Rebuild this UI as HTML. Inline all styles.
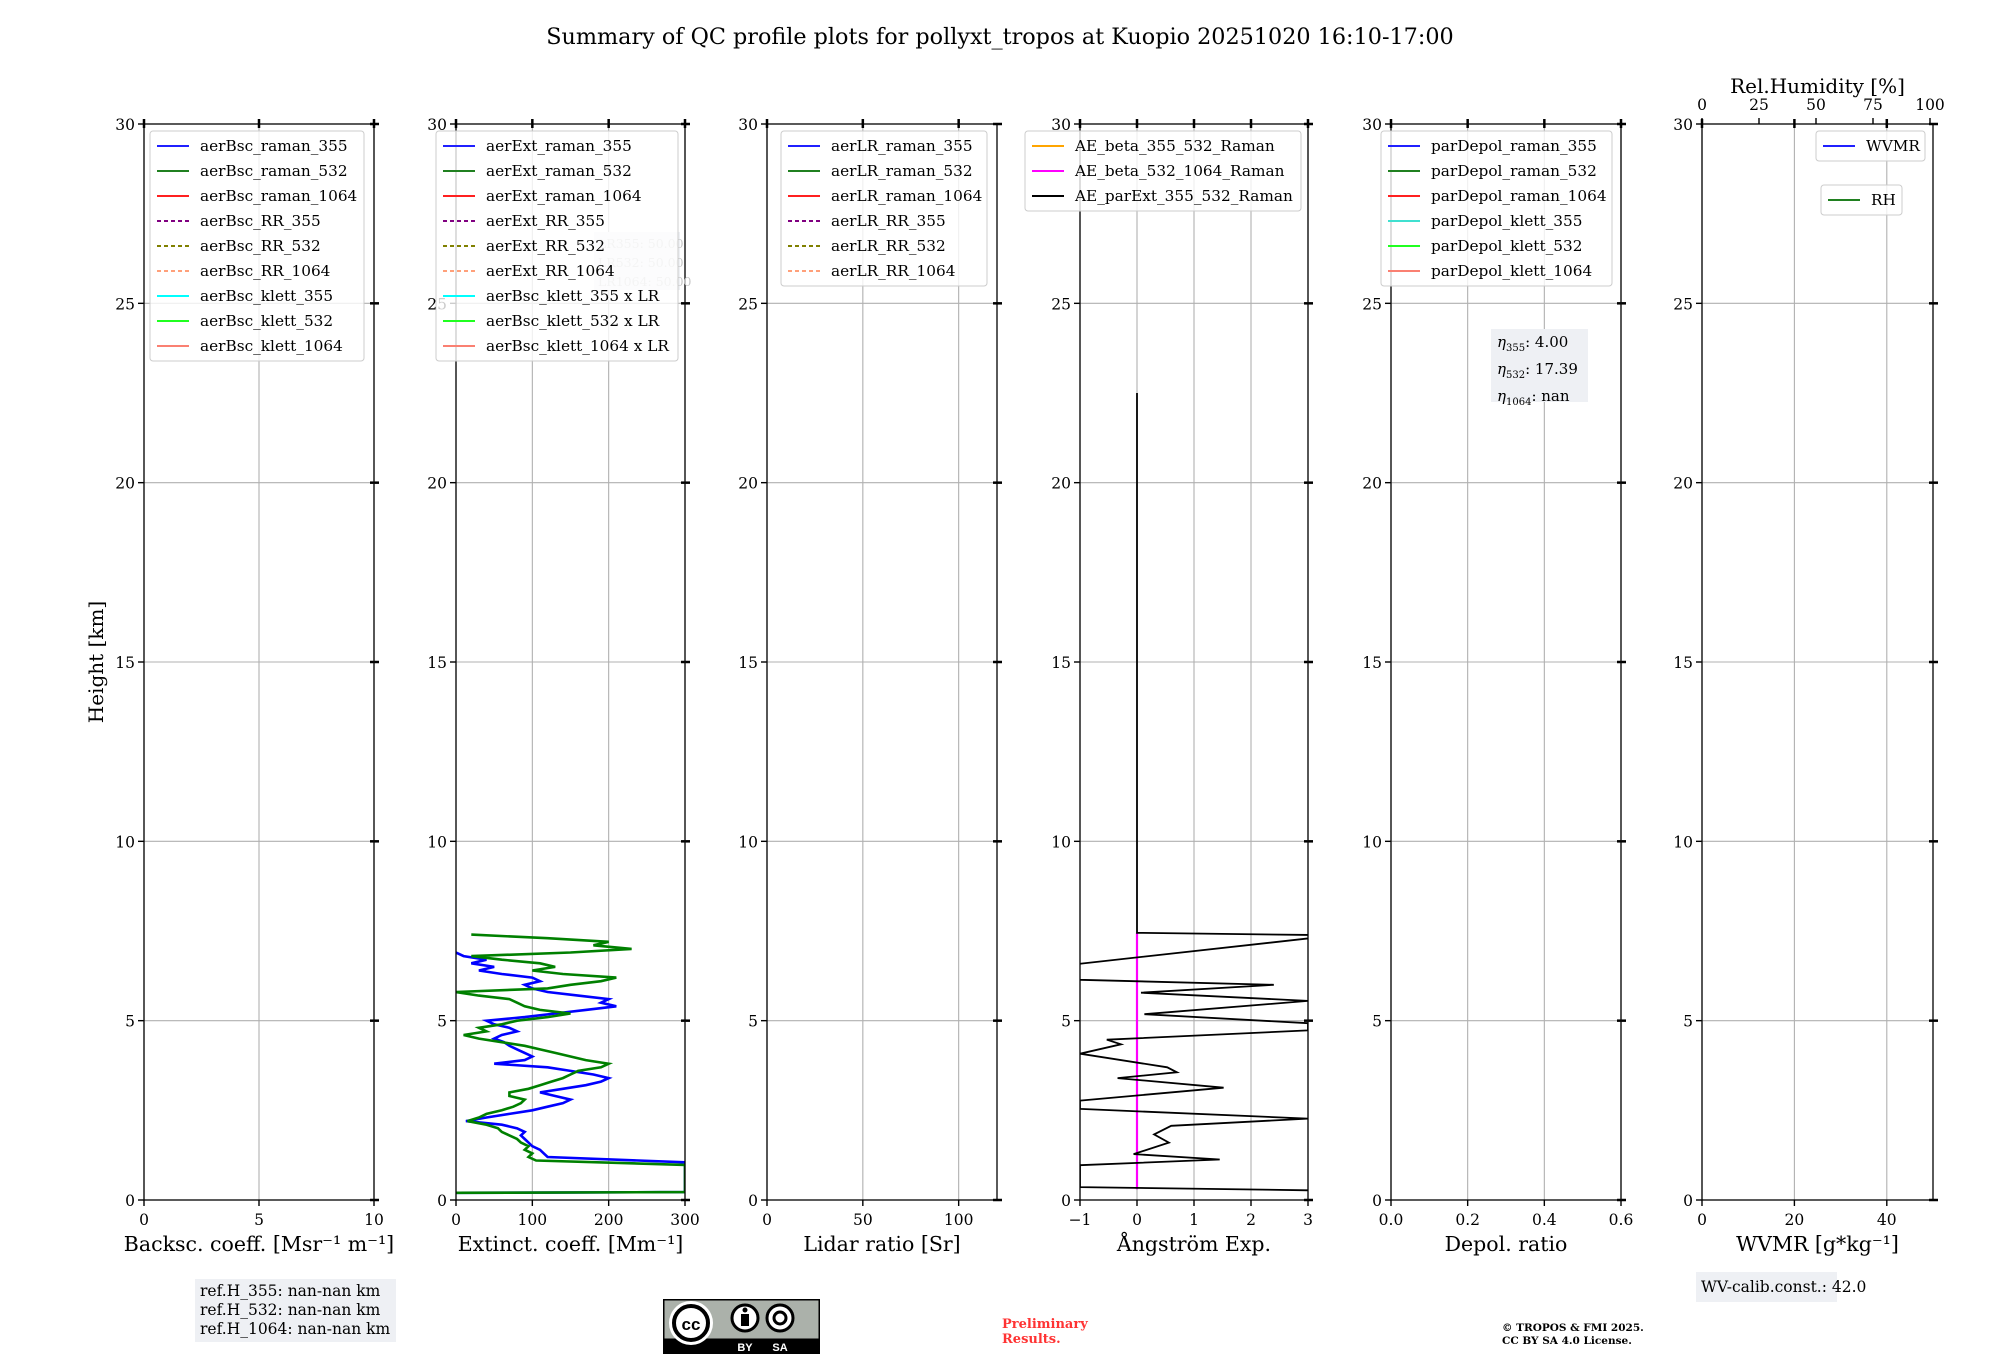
<!DOCTYPE html>
<html><head><meta charset="utf-8">
<style>
html,body{margin:0;padding:0;background:#fff;}
svg{display:block;font-family:"DejaVu Serif","Liberation Serif",serif;}
</style></head>
<body>
<svg id="fig" width="2000" height="1360" viewBox="0 0 2000 1360" xmlns="http://www.w3.org/2000/svg">
<text x="1000" y="44" font-size="22.3" text-anchor="middle">Summary of QC profile plots for pollyxt_tropos at Kuopio 20251020 16:10-17:00</text>
<text transform="translate(103,662) rotate(-90)" font-size="20" text-anchor="middle">Height [km]</text>
<g id="panels"></g>
</svg>
<script>
// ---- data ----
const heightTicks = [0,5,10,15,20,25,30];
const extHeights = [0.2,0.22,0.98,1.1,1.2,1.3,1.4,1.5,1.6,1.7,1.8,1.9,2.0,2.1,2.2,2.3,2.4,2.5,2.6,2.7,2.8,2.9,3.0,3.1,3.2,3.3,3.4,3.5,3.6,3.7,3.8,3.9,4.0,4.1,4.2,4.3,4.4,4.5,4.6,4.7,4.8,4.9,5.0,5.1,5.2,5.3,5.4,5.5,5.6,5.7,5.8,5.9,6.0,6.1,6.2,6.3,6.4,6.5,6.6,6.7,6.8,6.9,7.0,7.1,7.2,7.3,7.4];
const ext532 = [0,300,300,105,95,100,90,95,85,80,70,60,55,40,15,30,40,60,75,85,90,70,70,95,110,125,140,150,160,190,200,170,150,130,110,90,60,30,10,40,30,60,80,120,150,110,90,80,70,30,0,120,150,190,210,140,100,130,110,60,20,150,230,180,200,120,20];
const ext355Heights = [0.2,0.22,0.95,1.05,1.2,1.3,1.4,1.5,1.6,1.7,1.8,1.9,2.0,2.1,2.2,2.3,2.4,2.5,2.6,2.7,2.8,2.9,3.0,3.1,3.2,3.3,3.4,3.5,3.6,3.7,3.8,3.9,4.0,4.1,4.2,4.3,4.4,4.5,4.6,4.7,4.8,4.9,5.0,5.1,5.2,5.3,5.4,5.5,5.6,5.7,5.8,5.9,6.0,6.1,6.2,6.3,6.4,6.5,6.6,6.7,6.8,6.9];
const ext355 = [0,300,300,300,120,115,110,100,95,90,85,90,80,60,13,40,70,100,120,140,150,130,110,140,170,190,200,180,150,120,50,90,100,90,80,70,63,50,60,80,70,50,40,90,130,170,210,190,200,160,120,100,90,110,100,60,30,50,20,40,10,0];
const aeHeights = [0.27,0.36,0.97,1.13,1.28,1.6,1.83,2.07,2.27,2.54,2.77,3.13,3.4,3.56,3.7,4.08,4.34,4.47,4.73,4.93,5.18,5.55,5.78,6.0,6.14,6.5,7.38,7.45,22.5];
const aeParExt = [3,-1,-1,1.45,-0.06,0.56,0.3,0.6,3,-1,-1,1.52,-0.34,0.7,0.53,-1,-0.28,-0.53,3,3,0.13,3,0.07,2.4,-1,-1.5,3.5,0,0];
const aeBeta532Heights = [0.3,7.45];
const aeBeta532 = [0,0];

// ---- layout ----
const Y0=1200, Y1=124, HMAX=30;
const yS = h => Y0 - (h/HMAX)*(Y0-Y1);
const NS="http://www.w3.org/2000/svg";
const root=document.getElementById('panels');
function mk(tag,attrs,parent){const e=document.createElementNS(NS,tag);for(const k in attrs)e.setAttribute(k,attrs[k]);(parent||root).appendChild(e);return e;}

const panels=[
 {name:'backscatter',x0:144,x1:374,min:0,max:10,ticks:[0,5,10],label:'Backsc. coeff. [Msr\u207B\u00B9 m\u207B\u00B9]'},
 {name:'extinction',x0:456,x1:685,min:0,max:300,ticks:[0,100,200,300],label:'Extinct. coeff. [Mm\u207B\u00B9]'},
 {name:'lidar-ratio',x0:767,x1:997,min:0,max:120,ticks:[0,50,100],label:'Lidar ratio [Sr]'},
 {name:'angstrom',x0:1080,x1:1308,min:-1,max:3,ticks:[-1,0,1,2,3],label:'\u00C5ngstr\u00F6m Exp.',tl:['\u22121','0','1','2','3']},
 {name:'depol',x0:1391,x1:1621,min:0,max:0.6,ticks:[0,0.2,0.4,0.6],label:'Depol. ratio',tl:['0.0','0.2','0.4','0.6']},
 {name:'wvmr',x0:1702,x1:1933,min:0,max:50,ticks:[0,20,40],label:'WVMR [g*kg\u207B\u00B9]'}
];
const defs=mk('defs',{});
panels.forEach((p,i)=>{
  const g=mk('g',{});
  
  
  const xS=v=>p.x0+(v-p.min)/(p.max-p.min)*(p.x1-p.x0);
  p.xS=xS;
  const cp=mk('clipPath',{id:'clip'+i},defs);
  mk('rect',{x:p.x0,y:Y1,width:p.x1-p.x0,height:Y0-Y1},cp);
  heightTicks.forEach(h=>{
    const l=mk('line',{x1:p.x0,x2:p.x1,y1:yS(h),y2:yS(h),stroke:'#b0b0b0','stroke-width':1.1},g);
    
    
    mk('line',{x1:p.x0-6,x2:p.x0,y1:yS(h),y2:yS(h),stroke:'#000','stroke-width':1.4},g);
    mk('line',{x1:p.x1-4,x2:p.x1+5,y1:yS(h),y2:yS(h),stroke:'#000','stroke-width':2.5},g);
    const t=mk('text',{x:p.x0-9,y:yS(h)+6,'font-size':15.5,'text-anchor':'end'},g);
    
    
    t.textContent=h;
  });
  p.ticks.forEach((v,k)=>{
    const x=xS(v);
    mk('line',{x1:x,x2:x,y1:Y1,y2:Y0,stroke:'#b0b0b0','stroke-width':1.1},g);
    mk('line',{x1:x,x2:x,y1:Y0,y2:Y0+6,stroke:'#000','stroke-width':1.4},g);
    mk('line',{x1:x,x2:x,y1:Y1-5,y2:Y1+4,stroke:'#000','stroke-width':2.5},g);
    const t=mk('text',{x:x,y:Y0+25,'font-size':15.5,'text-anchor':'middle'},g);
    
    
    t.textContent=p.tl?p.tl[k]:v;
  });
  p.g=mk('g',{'clip-path':'url(#clip'+i+')'},g);
  mk('rect',{x:p.x0,y:Y1,width:p.x1-p.x0,height:Y0-Y1,fill:'none',stroke:'#000','stroke-width':1.3},g);
  const xl=mk('text',{x:(p.x0+p.x1)/2,y:1251,'font-size':20.5,'text-anchor':'middle'},g);
  
  
  xl.textContent=p.label;
});
(function(){
  const p=panels[5];
  const g=mk('g',{});
  
  
  [0,25,50,75,100].forEach(v=>{
    const x=p.x0+v/100*(p.x1-p.x0-3);
    mk('line',{x1:x,x2:x,y1:Y1-6,y2:Y1,stroke:'#000','stroke-width':1.4},g);
    const t=mk('text',{x:x,y:110,'font-size':15.5,'text-anchor':'middle'},g);
    
    
    t.textContent=v;
  });
  const t=mk('text',{x:(p.x0+p.x1)/2,y:93,'font-size':20,'text-anchor':'middle'},g);
  
  
  t.textContent='Rel.Humidity [%]';
})();
function series(p,xs,hs,color,w,name){
  const pts=xs.map((v,k)=>p.xS(v).toFixed(1)+','+yS(hs[k]).toFixed(1)).join(' ');
  const l=mk('polyline',{points:pts,fill:'none',stroke:color,'stroke-width':w,'stroke-linejoin':'miter'},p.g);
  
  
}
series(panels[1],ext355,ext355Heights,'#0000ff',2.6,'ext-355-line');
series(panels[1],ext532,extHeights,'#008000',2.6,'ext-532-line');
series(panels[3],aeBeta532,aeBeta532Heights,'#ff00ff',2.2,'ae-beta-532-1064-line');
series(panels[3],aeParExt,aeHeights,'#000',1.8,'ae-parext-line');

function legend(x,y,w,entries,name){
  const g=mk('g',{});
  
  
  const h=entries.length*25+5;
  mk('rect',{x:x,y:y,width:w,height:h,rx:3,fill:'#fff','fill-opacity':0.8,stroke:'#ccc','stroke-width':1},g);
  entries.forEach((e,k)=>{
    const cy=y+15+k*25;
    mk('line',{x1:x+7,x2:x+39,y1:cy,y2:cy,stroke:e[1],'stroke-width':2,'stroke-dasharray':e[2]?'4,3':'none'},g);
    const t=mk('text',{x:x+50,y:cy+5,'font-size':15.3},g);
    
    
    t.textContent=e[0];
  });
}
(function(){
  const g=mk('g',{fill:'#c8c8c8','font-size':12.5});
  
  
  mk('rect',{x:594,y:232,width:86,height:58,fill:'#eef0f4'},g);
  ['LR355: 50.00','LR532: 50.00','LR1064: 50.00'].forEach((s,k)=>{const t=mk('text',{x:598,y:248+k*19},g);t.textContent=s;});
})();
const L=[['','#2020ff'],['','#208020'],['','#ff2020'],['','#800080',1],['','#808000',1],['','#ffa07a',1],['','#00ffff'],['','#20ff20'],['','#fa8072']];
function lab(arr,names){return names.map((n,k)=>[n,arr[k][1],arr[k][2]]);}
legend(150,131,214,lab(L,['aerBsc_raman_355','aerBsc_raman_532','aerBsc_raman_1064','aerBsc_RR_355','aerBsc_RR_532','aerBsc_RR_1064','aerBsc_klett_355','aerBsc_klett_532','aerBsc_klett_1064']),'backscatter-legend');
legend(436,131,242,lab(L,['aerExt_raman_355','aerExt_raman_532','aerExt_raman_1064','aerExt_RR_355','aerExt_RR_532','aerExt_RR_1064','aerBsc_klett_355 x LR','aerBsc_klett_532 x LR','aerBsc_klett_1064 x LR']),'extinction-legend');
legend(781,131,206,lab(L,['aerLR_raman_355','aerLR_raman_532','aerLR_raman_1064','aerLR_RR_355','aerLR_RR_532','aerLR_RR_1064']),'lidar-ratio-legend');
legend(1025,131,276,[['AE_beta_355_532_Raman','#ffa500'],['AE_beta_532_1064_Raman','#ff00ff'],['AE_parExt_355_532_Raman','#000']],'angstrom-legend');
legend(1381,131,231,[['parDepol_raman_355','#2020ff'],['parDepol_raman_532','#208020'],['parDepol_raman_1064','#ff2020'],['parDepol_klett_355','#40e0d0'],['parDepol_klett_532','#20ff20'],['parDepol_klett_1064','#fa8072']],'depol-legend');
legend(1816,131,109,[['WVMR','#2020ff']],'wvmr-legend');
legend(1821,185,81,[['RH','#208020']],'rh-legend');
</script>
<div style="position:absolute;left:0;top:0;width:2000px;height:1360px;pointer-events:none;font-family:'DejaVu Serif',serif;">
  <div style="position:absolute;left:1491px;top:329px;width:97px;height:73px;background:#eef0f4;font-size:15px;line-height:21px;padding:3px 0 0 6px;box-sizing:border-box;white-space:nowrap;">
    <i>η</i><sub style="font-size:10px">355</sub>: 4.00<br><i>η</i><sub style="font-size:10px">532</sub>: 17.39<br><i>η</i><sub style="font-size:10px">1064</sub>: nan
  </div>
  <div style="position:absolute;left:195px;top:1279px;width:201px;height:63px;background:#eef0f4;font-size:15.5px;line-height:19px;padding:3px 0 0 5px;box-sizing:border-box;white-space:nowrap;">ref.H_355: nan-nan km<br>ref.H_532: nan-nan km<br>ref.H_1064: nan-nan km</div>
  <div style="position:absolute;left:1696px;top:1272px;width:141px;height:30px;background:#eef0f4;font-size:15.5px;line-height:30px;padding-left:5px;box-sizing:border-box;white-space:nowrap;">WV-calib.const.: 42.0</div>
  <div style="position:absolute;left:1002px;top:1317px;color:#ff3333;font-weight:bold;font-size:13px;line-height:15px;">Preliminary<br>Results.</div>
  <div style="position:absolute;left:1502px;top:1322px;font-weight:bold;font-size:10.5px;line-height:13px;white-space:nowrap;">© TROPOS &amp; FMI 2025.<br>CC BY SA 4.0 License.</div>
  <svg style="position:absolute;left:663px;top:1299px;" width="157" height="55" viewBox="0 0 157 55">
    <rect x="0" y="0" width="157" height="55" fill="#000"/>
    <rect x="1.5" y="1.5" width="154" height="38" fill="#abb1aa"/>
    <circle cx="28" cy="24" r="22" fill="#fff"/>
    <circle cx="28" cy="24" r="17" fill="#fff" stroke="#000" stroke-width="4"/>
    <text x="28" y="31" font-size="17" font-weight="bold" text-anchor="middle" font-family="Liberation Sans,sans-serif">cc</text>
    <circle cx="82" cy="19" r="13" fill="#fff" stroke="#000" stroke-width="3"/>
    <circle cx="82" cy="11" r="2.5" fill="#000"/><rect x="78" y="15" width="8" height="12" fill="#000"/>
    <circle cx="117" cy="19" r="13" fill="#fff" stroke="#000" stroke-width="3"/>
    <circle cx="117" cy="19" r="6" fill="none" stroke="#000" stroke-width="3"/>
    <text x="82" y="52" fill="#fff" font-size="11" font-weight="bold" text-anchor="middle" font-family="Liberation Sans,sans-serif">BY</text>
    <text x="117" y="52" fill="#fff" font-size="11" font-weight="bold" text-anchor="middle" font-family="Liberation Sans,sans-serif">SA</text>
  </svg>
</div>
</body></html>
